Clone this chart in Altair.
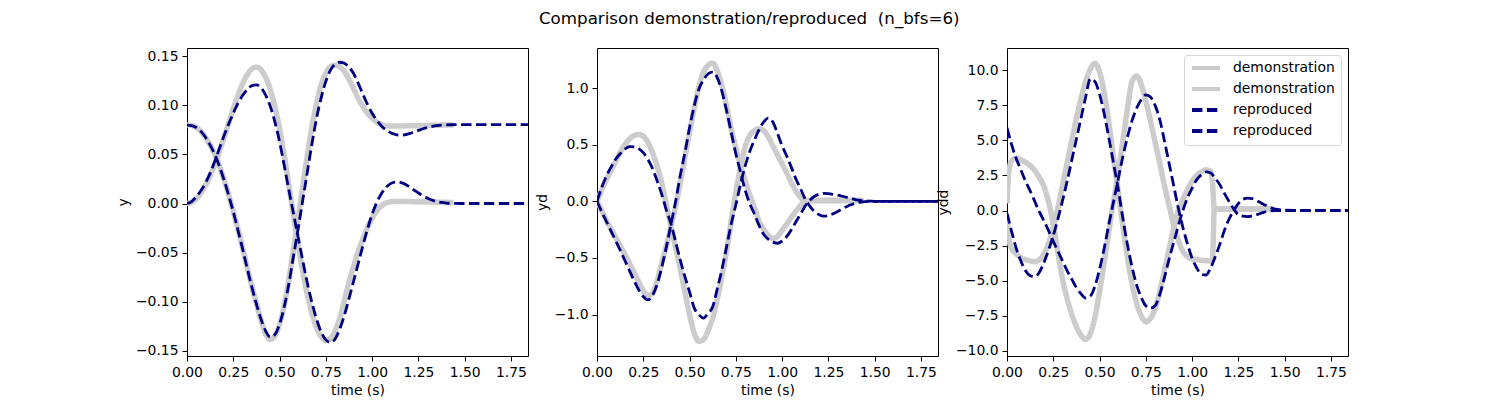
import altair as alt
import pandas as pd

GRAY = "#cccccc"
NAVY = "#000080"
FONT = "DejaVu Sans"

# time axes: the demonstration stops at ~1.44 s, the reproduction runs to ~1.84 s
T_DEMO = [0.0, 0.01,
          0.025, 0.05, 0.075, 0.1, 0.125, 0.15, 0.175, 0.2,
          0.225, 0.25, 0.275, 0.3, 0.325, 0.35, 0.375, 0.4,
          0.425, 0.45, 0.475, 0.5, 0.525, 0.55, 0.575, 0.6,
          0.625, 0.65, 0.675, 0.7, 0.725, 0.75, 0.775, 0.8,
          0.825, 0.85, 0.875, 0.9, 0.925, 0.95, 0.975, 1.0,
          1.025, 1.05, 1.075, 1.1,
          1.11, 1.12, 1.15, 1.2, 1.25, 1.3, 1.35, 1.4, 1.44]
T_REPR = [0.0, 0.025, 0.05, 0.075, 0.1, 0.125, 0.15, 0.175,
          0.2, 0.225, 0.25, 0.275, 0.3, 0.325, 0.35, 0.375,
          0.4, 0.425, 0.45, 0.475, 0.5, 0.525, 0.55, 0.575,
          0.6, 0.625, 0.65, 0.675, 0.7, 0.725, 0.75, 0.775,
          0.8, 0.825, 0.85, 0.875, 0.9, 0.925, 0.95, 0.975,
          1.0, 1.025, 1.05, 1.075, 1.1, 1.125, 1.15, 1.175,
          1.2, 1.225, 1.25, 1.275, 1.3, 1.325, 1.35, 1.375,
          1.4, 1.425, 1.45, 1.475, 1.5, 1.6, 1.7, 1.842]

# position y
Y_DEMO_1 = [0.0800, 0.0800,
            0.0795, 0.0775, 0.0735, 0.0675, 0.0595, 0.0500, 0.0380, 0.0245,
            0.0090, -0.0080, -0.0260, -0.0450, -0.0650, -0.0840, -0.1020, -0.1190,
            -0.1330, -0.1385, -0.1350, -0.1230, -0.1040, -0.0780, -0.0470, -0.0160,
            0.0170, 0.0490, 0.0780, 0.1020, 0.1210, 0.1330, 0.1395, 0.1410,
            0.1395, 0.1345, 0.1265, 0.1170, 0.1070, 0.0990, 0.0920, 0.0870,
            0.0830, 0.0805, 0.0793, 0.0790,
            0.0790, 0.0790, 0.0790, 0.0792, 0.0794, 0.0796, 0.0798, 0.0800, 0.0800]
Y_DEMO_2 = [0.0, 0.0002,
            0.0012, 0.0049, 0.0107, 0.0185, 0.0283, 0.0399, 0.0530, 0.0672,
            0.0818, 0.0964, 0.1101, 0.1220, 0.1312, 0.1371, 0.1390, 0.1362,
            0.1285, 0.1160, 0.0985, 0.0760, 0.0490, 0.0190, -0.0120, -0.0420,
            -0.0690, -0.0930, -0.1120, -0.1265, -0.1355, -0.1395, -0.1375, -0.1300,
            -0.1170, -0.0990, -0.0800, -0.0640, -0.0490, -0.0360, -0.0245, -0.0150,
            -0.0075, -0.0025, 0.0005, 0.0018,
            0.0020, 0.0021, 0.0021, 0.0020, 0.0018, 0.0016, 0.0014, 0.0012, 0.0010]
Y_REPR_1 = [0.0800, 0.0795, 0.0775, 0.0735, 0.0675, 0.0595, 0.0500, 0.0380,
            0.0240, 0.0085, -0.0085, -0.0270, -0.0460, -0.0660, -0.0850, -0.1025,
            -0.1180, -0.1300, -0.1360, -0.1335, -0.1230, -0.1055, -0.0820, -0.0540,
            -0.0260, 0.0030, 0.0320, 0.0610, 0.0870, 0.1080, 0.1245, 0.1360,
            0.1420, 0.1440, 0.1430, 0.1390, 0.1325, 0.1225, 0.1115, 0.1010,
            0.0920, 0.0850, 0.0790, 0.0750, 0.0722, 0.0705, 0.0697, 0.0700,
            0.0712, 0.0728, 0.0745, 0.0762, 0.0775, 0.0785, 0.0793, 0.0798,
            0.0801, 0.0803, 0.0804, 0.0804, 0.0804, 0.0804, 0.0804, 0.0804]
Y_REPR_2 = [0.0, 0.0020, 0.0070, 0.0130, 0.0210, 0.0310, 0.0430, 0.0560,
            0.0690, 0.0810, 0.0920, 0.1020, 0.1100, 0.1160, 0.1200, 0.1210,
            0.1180, 0.1105, 0.0990, 0.0830, 0.0630, 0.0390, 0.0140, -0.0100,
            -0.0340, -0.0580, -0.0810, -0.1010, -0.1180, -0.1310, -0.1390, -0.1415,
            -0.1380, -0.1280, -0.1140, -0.0970, -0.0790, -0.0610, -0.0430, -0.0260,
            -0.0110, 0.0010, 0.0100, 0.0165, 0.0203, 0.0218, 0.0215, 0.0200,
            0.0172, 0.0140, 0.0108, 0.0078, 0.0053, 0.0034, 0.0020, 0.0011,
            0.0005, 0.0002, 0.0001, 0.0, 0.0, 0.0, 0.0, 0.0]

# velocity yd
YD_DEMO_1 = [0.0, -0.03,
             -0.08, -0.165, -0.24, -0.315, -0.39, -0.465, -0.545, -0.625,
             -0.71, -0.785, -0.83, -0.81, -0.70, -0.54, -0.39, -0.22,
             -0.04, 0.17, 0.39, 0.61, 0.82, 1.01, 1.14, 1.20,
             1.22, 1.15, 1.02, 0.84, 0.64, 0.47, 0.32, 0.185,
             0.06, -0.05, -0.175, -0.245, -0.30, -0.327, -0.31, -0.255,
             -0.20, -0.14, -0.085, -0.035,
             -0.015, 0.0, 0.005, 0.005, 0.005, 0.005, 0.005, 0.005, 0.005]
YD_DEMO_2 = [0.0, 0.04,
             0.10, 0.19, 0.27, 0.35, 0.43, 0.50, 0.55, 0.58,
             0.59, 0.575, 0.52, 0.43, 0.31, 0.16, -0.03, -0.22,
             -0.41, -0.60, -0.80, -1.00, -1.16, -1.235, -1.22, -1.14,
             -1.03, -0.86, -0.66, -0.44, -0.17, 0.08, 0.30, 0.48,
             0.58, 0.625, 0.64, 0.625, 0.57, 0.49, 0.41, 0.33,
             0.25, 0.165, 0.09, 0.035,
             0.015, 0.0, 0.01, 0.01, 0.01, 0.01, 0.01, 0.01, 0.01]
YD_REPR_1 = [0.0, -0.09, -0.175, -0.26, -0.345, -0.43, -0.52, -0.61,
             -0.70, -0.78, -0.84, -0.87, -0.83, -0.73, -0.58, -0.40,
             -0.20, 0.0, 0.23, 0.43, 0.65, 0.84, 0.99, 1.07,
             1.125, 1.14, 1.09, 0.97, 0.80, 0.61, 0.42, 0.26,
             0.10, -0.02, -0.11, -0.21, -0.29, -0.335, -0.36, -0.37,
             -0.35, -0.31, -0.25, -0.18, -0.11, -0.04, 0.01, 0.045,
             0.063, 0.07, 0.068, 0.062, 0.054, 0.045, 0.035, 0.024,
             0.014, 0.008, 0.004, 0.002, 0.0, 0.0, 0.0, 0.0]
YD_REPR_2 = [0.0, 0.12, 0.22, 0.30, 0.37, 0.42, 0.46, 0.483,
             0.48, 0.465, 0.43, 0.37, 0.29, 0.18, 0.06, -0.08,
             -0.20, -0.36, -0.52, -0.665, -0.80, -0.94, -1.00, -1.03,
             -0.99, -0.93, -0.77, -0.60, -0.40, -0.20, -0.03, 0.15,
             0.31, 0.44, 0.54, 0.63, 0.70, 0.735, 0.70, 0.60,
             0.49, 0.40, 0.30, 0.195, 0.11, 0.02, -0.045, -0.09,
             -0.118, -0.13, -0.125, -0.11, -0.09, -0.065, -0.045, -0.028,
             -0.015, -0.006, -0.002, 0.0, 0.0, 0.0, 0.0, 0.0]

# acceleration ydd
YDD_DEMO_1 = [-0.3, -2.0,
              -2.7, -3.1, -3.35, -3.5, -3.6, -3.65, -3.5, -3.1,
              -2.3, -1.2, 0.2, 1.8, 3.4, 5.0, 6.6, 8.0,
              9.2, 10.1, 10.5, 9.9, 8.4, 6.3, 3.8, 1.4,
              -1.0, -3.3, -5.2, -6.6, -7.5, -7.95, -7.7, -7.0,
              -5.8, -4.3, -2.8, -1.3, 0.0, 0.8, 1.5, 2.1,
              2.5, 2.75, 2.9, 2.8,
              2.0, 0.2, 0.1, 0.1, 0.1, 0.1, 0.1, 0.1, 0.1]
YDD_DEMO_2 = [0.5, 2.8,
              3.55, 3.72, 3.62, 3.45, 3.2, 2.85, 2.35, 1.7,
              0.6, -1.0, -3.0, -4.9, -6.3, -7.4, -8.3, -8.9,
              -9.2, -8.8, -7.6, -5.8, -3.7, -1.5, 0.6, 2.6,
              4.9, 7.2, 9.2, 9.6, 9.0, 7.8, 6.4, 4.9,
              3.4, 1.8, 0.4, -1.0, -2.1, -2.9, -3.3, -3.45,
              -3.5, -3.55, -3.58, -3.6,
              -3.5, 0.1, 0.1, 0.1, 0.1, 0.1, 0.1, 0.1, 0.1]
YDD_REPR_1 = [-0.2, -1.5, -2.7, -3.6, -4.3, -4.65, -4.72, -4.4,
              -3.7, -2.8, -1.8, -0.6, 0.7, 2.1, 3.6, 5.1,
              6.6, 8.1, 9.4, 9.2, 8.3, 6.9, 5.2, 3.4,
              1.6, -0.5, -2.4, -4.0, -5.3, -6.2, -6.8, -6.97,
              -6.8, -6.0, -4.8, -3.5, -2.3, -1.1, 0.0, 0.9,
              1.6, 2.2, 2.55, 2.75, 2.67, 2.3, 1.83, 1.2,
              0.64, 0.1, -0.3, -0.4, -0.43, -0.38, -0.3, -0.18,
              -0.07, -0.02, 0.0, 0.0, 0.0, 0.0, 0.0, 0.0]
YDD_REPR_2 = [5.9, 4.7, 3.7, 2.9, 2.1, 1.4, 0.65, -0.1,
              -0.75, -1.45, -2.2, -2.9, -3.6, -4.3, -4.9, -5.5,
              -5.95, -6.25, -6.1, -5.4, -4.2, -2.7, -1.0, 0.6,
              2.2, 3.8, 5.2, 6.4, 7.3, 7.9, 8.25, 8.1,
              7.5, 6.5, 5.0, 3.4, 1.8, 0.2, -1.2, -2.4,
              -3.4, -4.1, -4.55, -4.6, -4.1, -3.3, -2.4, -1.4,
              -0.6, 0.0, 0.5, 0.8, 0.88, 0.85, 0.7, 0.52,
              0.35, 0.2, 0.1, 0.05, 0.02, 0.0, 0.0, 0.0]

X_TICKS = [0.0, 0.25, 0.5, 0.75, 1.0, 1.25, 1.5, 1.75]
SERIES = ["demonstration 1", "demonstration 2", "reproduced 1", "reproduced 2"]


def long_frame(t, curves):
    rows = []
    for name, values in curves:
        assert len(values) == len(t), name
        for ti, vi in zip(t, values):
            rows.append({"t": ti, "v": vi, "series": name})
    return pd.DataFrame(rows)


def panel(demo, rep, ytitle, ydomain, yticks, yfmt, show_legend):
    demo_df = long_frame(T_DEMO, [("demonstration 1", demo[0]), ("demonstration 2", demo[1])])
    rep_df = long_frame(T_REPR, [("reproduced 1", rep[0]), ("reproduced 2", rep[1])])

    if show_legend:
        # small symbol size keeps the rows even; the path draws a ~28px handle
        legend = alt.Legend(
            title=None, orient="top-right", offset=7, padding=6,
            fillColor="white", strokeColor="#d6d6d6", cornerRadius=3,
            labelExpr="split(datum.label, ' ')[0]",
            labelFont=FONT, labelFontSize=13.9, labelColor="black",
            symbolType="M-1,0H4.6", symbolSize=100, symbolStrokeWidth=4,
            labelOffset=29, rowPadding=5,
        )
    else:
        legend = None

    enc = dict(
        x=alt.X("t:Q", title="time (s)",
                scale=alt.Scale(domain=[0, 1.842], nice=False, zero=False),
                axis=alt.Axis(values=X_TICKS, format=".2f", labelFlush=False, labelOverlap=False)),
        y=alt.Y("v:Q", title=ytitle,
                scale=alt.Scale(domain=ydomain, nice=False, zero=False),
                axis=alt.Axis(values=yticks, format=yfmt, labelOverlap=False)),
        color=alt.Color("series:N", legend=legend,
                        scale=alt.Scale(domain=SERIES, range=[GRAY, GRAY, NAVY, NAVY])),
        strokeDash=alt.StrokeDash("series:N", legend=legend,
                                  scale=alt.Scale(domain=SERIES, range=[[1, 0], [1, 0], [10.4, 4.5], [10.4, 4.5]])),
        strokeWidth=alt.StrokeWidth("series:N", legend=None,
                                    scale=alt.Scale(type="ordinal", domain=SERIES, range=[5.5, 5.5, 2.8, 2.8])),
    )
    demo_lines = alt.Chart(demo_df).mark_line(interpolate="monotone", clip=True).encode(**enc)
    rep_lines = alt.Chart(rep_df).mark_line(interpolate="monotone", clip=True).encode(**enc)
    return alt.layer(demo_lines, rep_lines).properties(width=341, height=308)


p1 = panel((Y_DEMO_1, Y_DEMO_2), (Y_REPR_1, Y_REPR_2), "y",
           [-0.1554, 0.1585], [-0.15, -0.1, -0.05, 0.0, 0.05, 0.1, 0.15], ".2f", False)
p2 = panel((YD_DEMO_1, YD_DEMO_2), (YD_REPR_1, YD_REPR_2), "yd",
           [-1.365, 1.3535], [-1.0, -0.5, 0.0, 0.5, 1.0], ".1f", False)
p3 = panel((YDD_DEMO_1, YDD_DEMO_2), (YDD_REPR_1, YDD_REPR_2), "ydd",
           [-10.381, 11.595], [-10.0, -7.5, -5.0, -2.5, 0.0, 2.5, 5.0, 7.5, 10.0], ".1f", True)

chart = alt.hconcat(p1, p2, p3, spacing=69, bounds="flush").resolve_legend(
    color="independent", strokeDash="independent"
).properties(
    title=alt.TitleParams("Comparison demonstration/reproduced \u00a0(n_bfs=6)",
                          anchor="middle", dx=17, offset=20),
    padding={"left": 107, "top": 2, "right": 10, "bottom": 0},
).configure_view(
    stroke="black", strokeWidth=1
).configure_axis(
    grid=False, domain=False, tickColor="black", tickSize=5, tickWidth=1,
    labelFont=FONT, labelFontSize=13.9, labelColor="black", labelPadding=4,
    titleFont=FONT, titleFontSize=13.9, titleFontWeight="normal", titleColor="black",
    titlePadding=5,
).configure_title(
    font=FONT, fontSize=16.7, fontWeight="normal", color="black"
)

chart.save("out.html", embed_options={"renderer": "svg", "actions": False})
